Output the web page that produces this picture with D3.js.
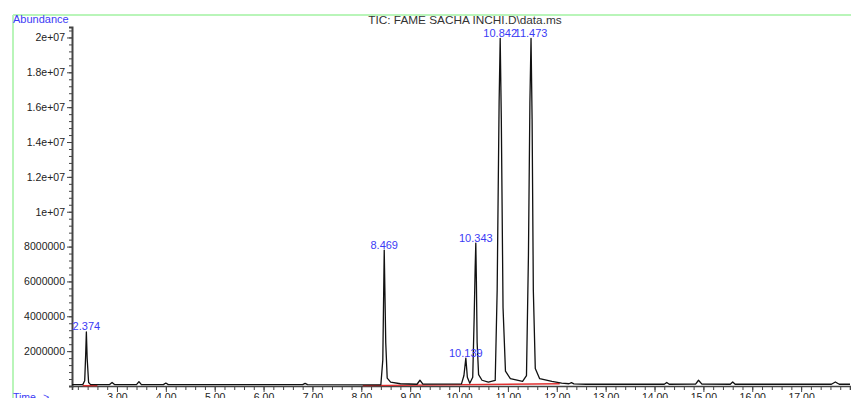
<!DOCTYPE html>
<html lang="en">
<head>
<meta charset="UTF-8">
<title>TIC: FAME SACHA INCHI</title>
<script src="https://d3js.org/d3.v7.min.js"></script>
<style>
  body { margin: 0; padding: 0; background: #fff; }
  svg { display: block; font-family: "Liberation Sans", Arial, sans-serif; }
  .axis path, .axis line { stroke: #444; }
  .axis text { fill: #222; font-size: 10.5px; }
</style>
</head>
<body>
<div id="chart"></div>
<script>
// retention time axis ticks (minutes)
const xMajorTicks = [3, 4, 5, 6, 7, 8, 9, 10, 11, 12, 13, 14, 15, 16, 17];
const xTickLabels = ["3.00", "4.00", "5.00", "6.00", "7.00", "8.00", "9.00", "10.00",
                     "11.00", "12.00", "13.00", "14.00", "15.00", "16.00", "17.00"];

// abundance axis ticks
const yMajorTicks = [2e6, 4e6, 6e6, 8e6, 1e7, 1.2e7, 1.4e7, 1.6e7, 1.8e7, 2e7];
const yTickLabels = ["2000000", "4000000", "6000000", "8000000", "1e+07",
                     "1.2e+07", "1.4e+07", "1.6e+07", "1.8e+07", "2e+07"];

// labelled peaks
const peakTimes = [2.374, 8.469, 10.139, 10.343, 10.842, 11.473];
const peakHeights = [3.1e6, 7.8e6, 1.6e6, 8.2e6, 1.995e7, 1.995e7];

// TIC trace
const traceTime = [2.08, 2.30, 2.34, 2.36, 2.374, 2.39, 2.42, 2.46, 2.85, 2.90, 2.95,
  3.40, 3.45, 3.50, 3.95, 4.00, 4.05, 6.80, 6.85, 6.90, 8.40, 8.44, 8.469, 8.50, 8.53,
  8.60, 8.80, 9.14, 9.20, 9.26, 10.05, 10.10, 10.139, 10.17, 10.22, 10.28, 10.31, 10.33,
  10.343, 10.355, 10.37, 10.40, 10.47, 10.60, 10.74, 10.78, 10.82, 10.842, 10.865, 10.90,
  10.95, 11.05, 11.30, 11.38, 11.42, 11.45, 11.473, 11.495, 11.52, 11.56, 11.65, 11.90,
  12.10, 12.25, 12.30, 12.35, 12.60, 14.20, 14.25, 14.30, 14.84, 14.90, 14.97, 15.55,
  15.60, 15.65, 17.62, 17.70, 17.78, 18.0];
const traceAbundance = [80000, 80000, 300000, 1800000, 3100000, 1600000, 200000, 80000,
  80000, 200000, 80000, 80000, 250000, 80000, 80000, 170000, 80000, 80000, 150000, 80000,
  70000, 1500000, 7800000, 2500000, 450000, 220000, 130000, 100000, 330000, 110000,
  120000, 600000, 1600000, 500000, 160000, 500000, 4000000, 6800000, 8200000, 6000000,
  2500000, 650000, 330000, 220000, 320000, 5500000, 16300000, 19950000, 15300000,
  4500000, 850000, 420000, 260000, 600000, 7500000, 16300000, 19950000, 15300000,
  5500000, 1000000, 420000, 260000, 160000, 130000, 190000, 120000, 100000, 100000,
  200000, 100000, 110000, 330000, 110000, 100000, 230000, 100000, 100000, 230000,
  100000, 100000];

// integration baselines (red)
const baseStart = [2.30, 8.03];
const baseEnd = [2.60, 12.06];
const baseStartVal = [20000, 20000];
const baseEndVal = [20000, 130000];

const W = 851, H = 398;
const svg = d3.select("#chart").append("svg")
  .attr("width", W).attr("height", H);

const x = d3.scaleLinear().domain([2.08, 18.0]).range([72, 850]);
const y = d3.scaleLinear().domain([0, 2.06e7]).range([386, 27]);

// green frame
svg.append("line").attr("x1", 13).attr("x2", W).attr("y1", 15).attr("y2", 15)
  .attr("stroke", "#b9f5b9").attr("stroke-width", 2);
svg.append("line").attr("x1", 13).attr("x2", 13).attr("y1", 15).attr("y2", H)
  .attr("stroke", "#b9f5b9").attr("stroke-width", 2);

// title and axis captions
svg.append("text").attr("x", 465).attr("y", 23.5).attr("text-anchor", "middle")
  .attr("font-size", "11.8px").attr("fill", "#333")
  .text("TIC: FAME SACHA INCHI.D\\data.ms");
svg.append("text").attr("x", 13).attr("y", 23)
  .attr("font-size", "11px").attr("fill", "#3b3bf5").text("Abundance");
svg.append("text").attr("x", 13).attr("y", 400.5)
  .attr("font-size", "10.5px").attr("fill", "#3b3bf5").text("Time-->");

// x axis: minor then major
const xMinor = d3.range(2.2, 18.01, 0.2);
svg.append("g").attr("class", "axis")
  .attr("transform", `translate(0,${y(0)})`)
  .call(d3.axisBottom(x).tickValues(xMinor).tickSize(4).tickFormat(""))
  .call(g => g.select(".domain").attr("stroke-width", 1.6));
svg.append("g").attr("class", "axis")
  .attr("transform", `translate(0,${y(0)})`)
  .call(d3.axisBottom(x).tickValues(xMajorTicks).tickSize(6).tickPadding(2)
    .tickFormat((d, i) => xTickLabels[i]))
  .call(g => g.select(".domain").remove());

// y axis: minor then major
const yMinor = d3.range(4e5, 2.06e7, 4e5);
svg.append("g").attr("class", "axis")
  .attr("transform", `translate(${x.range()[0]},0)`)
  .call(d3.axisLeft(y).tickValues(yMinor).tickSize(3).tickFormat(""))
  .call(g => g.select(".domain").attr("stroke-width", 2));
svg.append("g").attr("class", "axis")
  .attr("transform", `translate(${x.range()[0]},0)`)
  .call(d3.axisLeft(y).tickValues(yMajorTicks).tickSize(5).tickPadding(2)
    .tickFormat((d, i) => yTickLabels[i]))
  .call(g => g.select(".domain").remove());

// red integration baselines
svg.append("g").selectAll("line").data(baseStart).join("line")
  .attr("x1", d => x(d)).attr("x2", (d, i) => x(baseEnd[i]))
  .attr("y1", (d, i) => y(baseStartVal[i])).attr("y2", (d, i) => y(baseEndVal[i]))
  .attr("stroke", "#e03030").attr("stroke-width", 1.4);

// trace
const pts = traceTime.map((t, i) => [t, traceAbundance[i]]);
svg.append("path").datum(pts)
  .attr("fill", "none").attr("stroke", "#111").attr("stroke-width", 1.3)
  .attr("stroke-linejoin", "round")
  .attr("d", d3.line().x(d => x(d[0])).y(d => y(d[1])));

// peak labels
svg.append("g").selectAll("text").data(peakTimes).join("text")
  .attr("x", d => x(d)).attr("y", (d, i) => y(peakHeights[i]) - 1.5)
  .attr("text-anchor", "middle").attr("font-size", "11px").attr("fill", "#3b3bf5")
  .text(d => d.toFixed(3));
</script>
</body>
</html>
